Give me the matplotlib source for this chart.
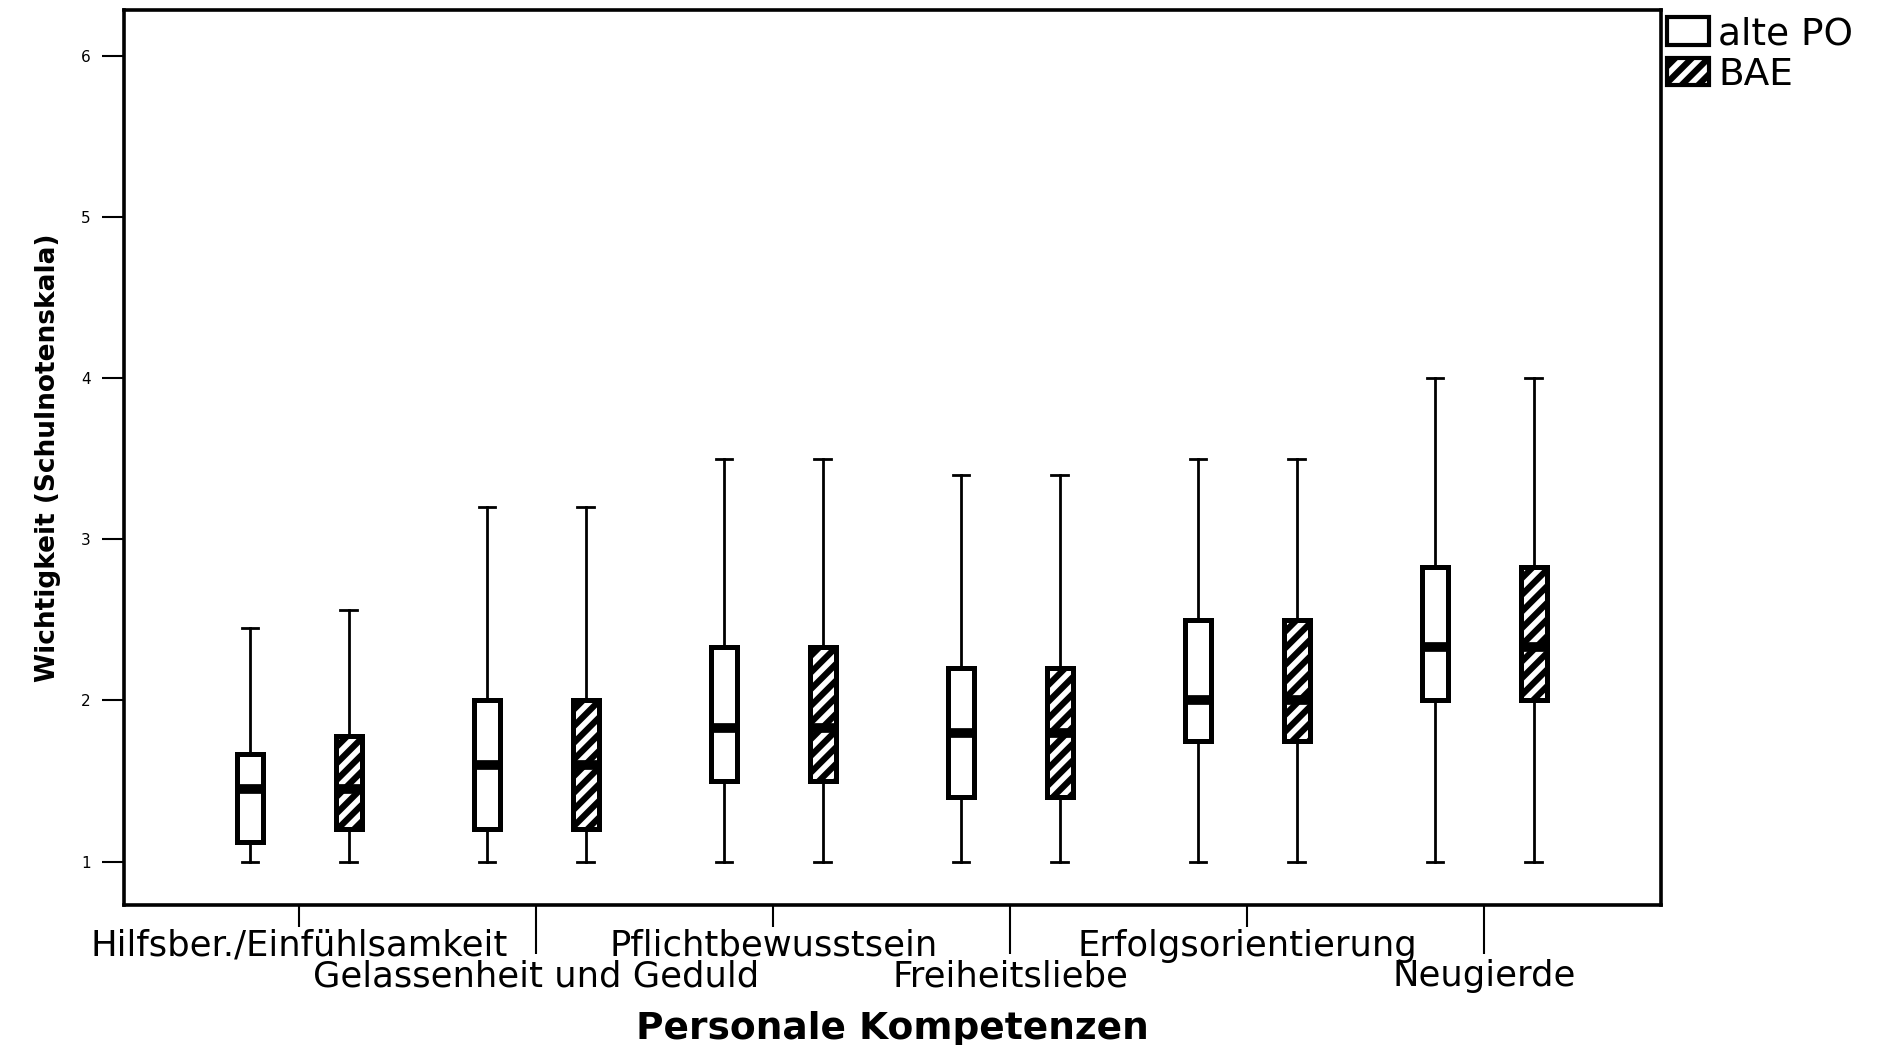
import matplotlib
matplotlib.use('Agg')
from matplotlib import pyplot
from matplotlib.patches import Patch

pyplot.rcParams['font.family'] = ['DejaVu Sans']
pyplot.rcParams['hatch.linewidth'] = 4.5

categories = ['Hilfsber./Einfühlsamkeit', 'Gelassenheit und Geduld', 'Pflichtbewusstsein',
              'Freiheitsliebe', 'Erfolgsorientierung', 'Neugierde']

# alte PO
alt_min = [1, 1, 1, 1, 1, 1]
alt_q1 = [1.12, 1.2, 1.5, 1.4, 1.75, 2.0]
alt_med = [1.45, 1.6, 1.83, 1.8, 2.0, 2.33]
alt_q3 = [1.67, 2.0, 2.33, 2.2, 2.5, 2.83]
alt_max = [2.45, 3.2, 3.5, 3.4, 3.5, 4.0]

# BAE
bae_min = [1, 1, 1, 1, 1, 1]
bae_q1 = [1.2, 1.2, 1.5, 1.4, 1.75, 2.0]
bae_med = [1.45, 1.6, 1.83, 1.8, 2.0, 2.33]
bae_q3 = [1.78, 2.0, 2.33, 2.2, 2.5, 2.83]
bae_max = [2.56, 3.2, 3.5, 3.4, 3.5, 4.0]

y_ticks = [1, 2, 3, 4, 5, 6]

def stats(lo, q1, med, q3, hi):
    return [{'whislo': a, 'q1': b, 'med': c, 'q3': d, 'whishi': e, 'fliers': []}
            for a, b, c, d, e in zip(lo, q1, med, q3, hi)]

fig = pyplot.figure(figsize = (18.86, 10.45), dpi = 100)
ax = fig.add_axes([0.0657, 0.134, 0.8150, 0.856])

off = 0.208
style = dict(widths = 0.11, capwidths = 0.07, patch_artist = True, manage_ticks = False,
             boxprops = dict(linewidth = 3.6, edgecolor = 'black'),
             whiskerprops = dict(linewidth = 2, color = 'black'),
             capprops = dict(linewidth = 2, color = 'black'),
             medianprops = dict(linewidth = 7, color = 'black', solid_capstyle = 'butt'))

pos = list(range(len(categories)))
b1 = ax.bxp(stats(alt_min, alt_q1, alt_med, alt_q3, alt_max),
            positions = [p - off for p in pos], **style)
b2 = ax.bxp(stats(bae_min, bae_q1, bae_med, bae_q3, bae_max),
            positions = [p + off for p in pos], **style)
for b in b1['boxes']:
    b.set_facecolor('white')
for b in b2['boxes']:
    b.set_facecolor('white')
    b.set_hatch('//')

ax.set_xlim(-0.74, 5.745)
ax.set_ylim(0.731, 6.281)
ax.set_yticks(y_ticks)
ax.set_yticklabels([str(t) for t in y_ticks], fontsize = 11)
ax.tick_params(axis = 'y', length = 16, width = 1.5, pad = 8)

ax.set_xticks(pos)
ax.set_xticklabels(categories, fontsize = 25.5)
ax.tick_params(axis = 'x', length = 16, width = 1.5, pad = 1)
# second row of labels sits lower, with longer ticks
for i, t in enumerate(ax.xaxis.get_major_ticks()):
    if i % 2 == 1:
        t.set_pad(23)
        t.tick1line.set_markersize(35)

for s in ax.spines.values():
    s.set_linewidth(2.6)

ax.set_ylabel('Wichtigkeit (Schulnotenskala)', fontsize = 19, fontweight = 'bold', labelpad = 14)
ax.set_xlabel('Personale Kompetenzen', fontsize = 27, fontweight = 'bold', labelpad = 13)

handles = [Patch(facecolor = 'white', edgecolor = 'black', linewidth = 3, label = 'alte PO'),
           Patch(facecolor = 'white', edgecolor = 'black', linewidth = 3, hatch = '//', label = 'BAE')]
ax.legend(handles = handles, loc = 'upper left', bbox_to_anchor = (1.0, 1.0), frameon = False,
          fontsize = 27, handlelength = 1.12, handleheight = 0.77, handletextpad = 0.25,
          labelspacing = 0.12, borderaxespad = 0.1, borderpad = 0.05)

fig.savefig('out.png', dpi = 100)
